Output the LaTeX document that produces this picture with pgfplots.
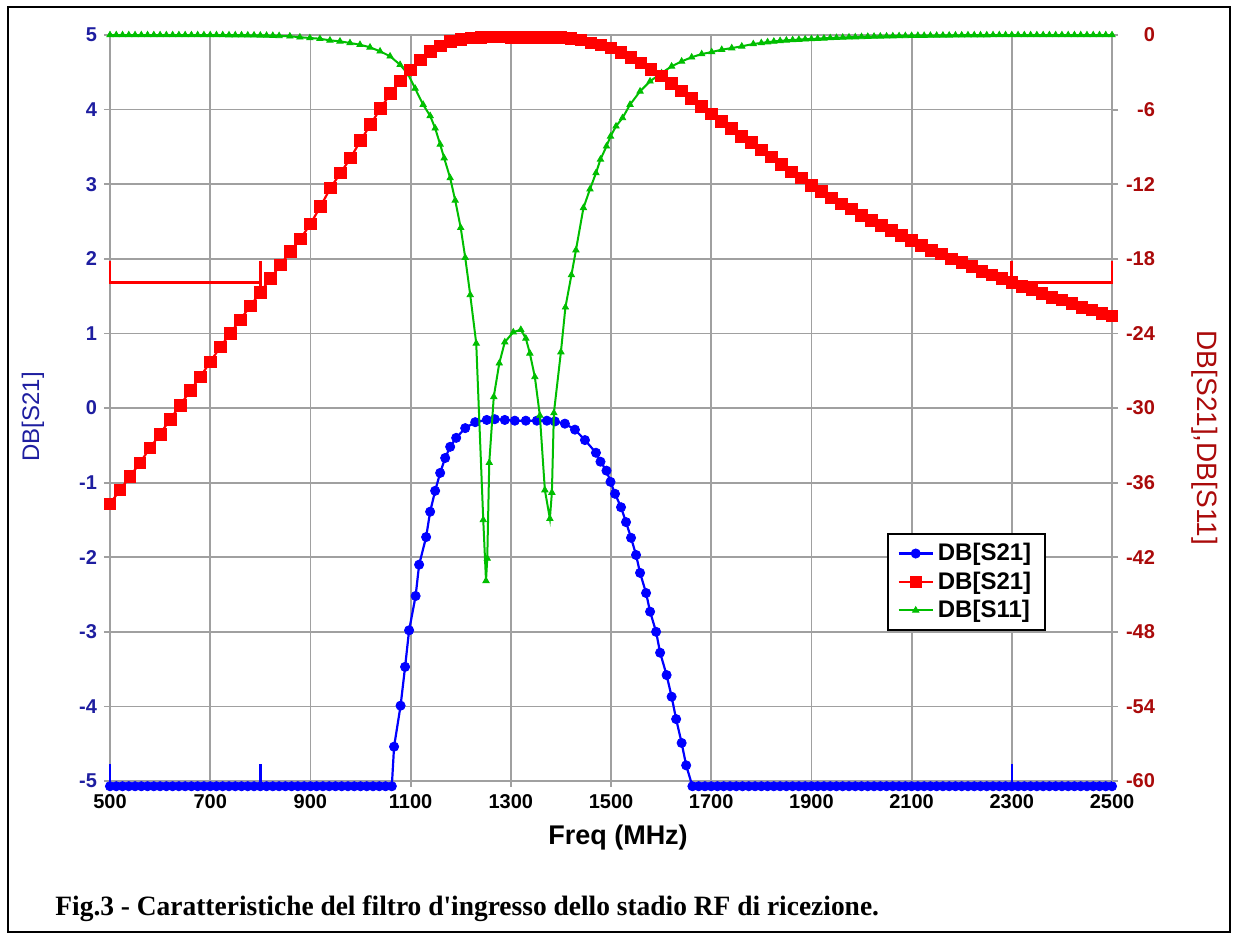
\documentclass[border=0pt]{standalone}
\usepackage{fontspec}
\setmainfont{Liberation Sans}
\newfontfamily\capfont{Liberation Serif}
\usepackage{graphicx}
\usepackage{pgfplots}
\pgfplotsset{compat=1.18}
\definecolor{S21blue}{RGB}{0,0,255}
\definecolor{S21red}{RGB}{255,0,0}
\definecolor{S11green}{RGB}{0,190,0}
\definecolor{LeftTick}{RGB}{30,30,160}
\definecolor{RightTick}{RGB}{170,10,10}
\definecolor{GridGray}{RGB}{160,160,160}
\pgfplotsset{
 filtro/.style={
  scale only axis, width=501pt, height=373pt,
  xmin=500, xmax=2500,
  clip=false,
  axis line style={draw=GridGray, line width=0.9pt},
  tick style={draw=GridGray, line width=0.9pt},
  tick align=outside, major tick length=3pt,
  tick label style={font=\fontsize{10}{12}\selectfont\bfseries},
 },
 bluetrace/.style={S21blue, line width=1.1pt, mark=*, mark size=2.3pt, mark options={fill=S21blue, line width=0.4pt}},
 redtrace/.style={S21red, line width=1.1pt, mark=square*, mark size=2.9pt, mark options={fill=S21red, line width=0.4pt}},
 greentrace/.style={S11green, line width=1pt, mark=triangle*, mark size=1.8pt, mark options={fill=S11green, line width=0.4pt}},
}
\begin{document}
\begin{tikzpicture}
\path[use as bounding box] (-55pt,-78.5pt) rectangle (562pt,390.5pt);
% left axis: S21 zoomed
\begin{axis}[filtro,
 ymin=-5, ymax=5,
 xtick={500,700,...,2500},
 xticklabels={500,700,900,1100,1300,1500,1700,1900,2100,2300,2500},
 ytick={-5,-4,...,5},
 yticklabels={-5,-4,-3,-2,-1,0,1,2,3,4,5},
 xtick pos=bottom, ytick pos=left,
 grid=major, major grid style={draw=GridGray, line width=0.9pt},
 yticklabel style={text=LeftTick},
 xlabel={Freq (MHz)},
 xlabel style={font=\fontsize{13.5}{15}\selectfont\bfseries, at={(axis description cs:0.507,-0.076)}, anchor=center},
 ylabel={DB[S21]},
 ylabel style={font=\fontsize{12}{14}\selectfont, text=LeftTick, at={(axis description cs:-0.077,0.488)}, anchor=center},
]
\addplot[bluetrace] coordinates {
(500,-5.07)(512.5,-5.07)(525,-5.07)(537.5,-5.07)(550,-5.07)(562.5,-5.07)(575,-5.07)(587.5,-5.07)(600,-5.07)(612.5,-5.07)(625,-5.07)(637.5,-5.07)(650,-5.07)(662.5,-5.07)(675,-5.07)(687.5,-5.07)(700,-5.07)(712.5,-5.07)(725,-5.07)(737.5,-5.07)(750,-5.07)(762.5,-5.07)(775,-5.07)(787.5,-5.07)(800,-5.07)(812.5,-5.07)(825,-5.07)(837.5,-5.07)(850,-5.07)(862.5,-5.07)(875,-5.07)(887.5,-5.07)(900,-5.07)(912.5,-5.07)(925,-5.07)(937.5,-5.07)(950,-5.07)(962.5,-5.07)(975,-5.07)(987.5,-5.07)(1000,-5.07)(1012.5,-5.07)(1025,-5.07)(1037.5,-5.07)(1050,-5.07)(1062.5,-5.07)
(1067,-4.54)(1080,-3.99)(1089,-3.47)(1097,-2.98)(1110,-2.52)(1117,-2.10)(1131,-1.73)(1139,-1.39)(1149,-1.11)(1159,-0.87)(1169,-0.67)(1179,-0.52)(1191,-0.40)(1209,-0.27)(1229,-0.19)(1252,-0.16)(1268,-0.15)(1288,-0.16)(1308,-0.17)(1330,-0.17)(1352,-0.17)(1372,-0.17)(1388,-0.18)(1408,-0.21)(1428,-0.29)(1448,-0.43)(1470,-0.60)(1479,-0.72)(1491,-0.84)(1499,-0.99)(1508,-1.15)(1520,-1.33)(1530,-1.53)(1540,-1.74)(1550,-1.97)(1558,-2.21)(1570,-2.48)(1578,-2.73)(1590,-3.00)(1598,-3.28)(1611,-3.58)(1621,-3.87)(1630,-4.17)(1641,-4.49)(1650,-4.79)
(1662.5,-5.07)(1675,-5.07)(1687.5,-5.07)(1700,-5.07)(1712.5,-5.07)(1725,-5.07)(1737.5,-5.07)(1750,-5.07)(1762.5,-5.07)(1775,-5.07)(1787.5,-5.07)(1800,-5.07)(1812.5,-5.07)(1825,-5.07)(1837.5,-5.07)(1850,-5.07)(1862.5,-5.07)(1875,-5.07)(1887.5,-5.07)(1900,-5.07)(1912.5,-5.07)(1925,-5.07)(1937.5,-5.07)(1950,-5.07)(1962.5,-5.07)(1975,-5.07)(1987.5,-5.07)(2000,-5.07)(2012.5,-5.07)(2025,-5.07)(2037.5,-5.07)(2050,-5.07)(2062.5,-5.07)(2075,-5.07)(2087.5,-5.07)(2100,-5.07)(2112.5,-5.07)(2125,-5.07)(2137.5,-5.07)(2150,-5.07)(2162.5,-5.07)(2175,-5.07)(2187.5,-5.07)(2200,-5.07)(2212.5,-5.07)(2225,-5.07)(2237.5,-5.07)(2250,-5.07)(2262.5,-5.07)(2275,-5.07)(2287.5,-5.07)(2300,-5.07)(2312.5,-5.07)(2325,-5.07)(2337.5,-5.07)(2350,-5.07)(2362.5,-5.07)(2375,-5.07)(2387.5,-5.07)(2400,-5.07)(2412.5,-5.07)(2425,-5.07)(2437.5,-5.07)(2450,-5.07)(2462.5,-5.07)(2475,-5.07)(2487.5,-5.07)(2500,-5.07)};
% blue mask marks
\addplot[S21blue, line width=1.3pt] coordinates {(500,-4.77)(500,-5.05)(800,-5.05)(800,-4.77)};
\addplot[S21blue, line width=1.3pt] coordinates {(2300,-4.77)(2300,-5.05)(2500,-5.05)(2500,-4.77)};
\end{axis}
% right axis: S21 and S11
\begin{axis}[filtro,
 ymin=-60, ymax=0,
 ytick={-60,-54,...,0},
 yticklabels={-60,-54,-48,-42,-36,-30,-24,-18,-12,-6,0},
 axis y line*=right, axis x line=none,
 yticklabel style={text=RightTick, anchor=east, xshift=22pt},
 ylabel={DB[S21],DB[S11]},
 ylabel style={font=\fontsize{14}{16}\selectfont, text=RightTick, at={(axis description cs:1.093,0.46)}, anchor=center, rotate=180},
 legend style={at={(axis description cs:0.775,0.332)}, anchor=north west, draw=black, line width=1pt, fill=white,
  font=\fontsize{12}{14}\selectfont\bfseries, inner xsep=5pt, inner ysep=2.5pt},
 legend cell align=left,
]
\addplot[greentrace, forget plot] coordinates {
(500,0)(512.5,0)(525,0)(537.5,0)(550,0)(562.5,0)(575,0)(587.5,0)(600,0)(612.5,0)(625,0)(637.5,0)(650,0)(662.5,0)(675,0)(687.5,0)(700,0)(712.5,0)(725,0)(737.5,-0.01)(750,-0.01)(762.5,-0.01)(775,-0.02)(787.5,-0.02)(800,-0.03)(812.5,-0.04)(825,-0.05)(837.5,-0.07)
(859,-0.10)(879,-0.18)(899,-0.24)(919,-0.30)(939,-0.43)(959,-0.51)(979,-0.64)(999,-0.78)(1019,-0.99)(1039,-1.31)(1059,-1.71)(1079,-2.39)(1095,-3.15)(1109,-4.3)(1125,-5.6)(1139,-6.5)(1149,-7.5)(1159,-8.8)(1167,-9.9)(1179,-11.5)(1189,-13.3)(1200,-15.5)(1209,-17.9)(1219,-20.9)(1231,-24.8)(1245,-39.0)(1250.5,-43.9)(1253,-42.1)(1257,-34.4)(1266,-29.1)(1277,-26.4)(1288,-24.7)(1305,-23.9)(1320,-23.7)(1330,-24.4)(1338,-25.6)(1348,-27.5)(1358,-30.6)(1368,-36.6)(1378,-38.9)(1382,-36.8)(1386,-30.4)(1400,-25.5)(1409,-21.9)(1421,-19.3)(1430,-17.3)(1445,-13.9)(1458,-12.4)(1470,-11.1)(1479,-10.0)(1491,-8.95)(1499,-8.15)(1510,-7.34)(1523,-6.67)(1538,-5.60)(1558,-4.53)(1578,-3.72)(1601,-3.06)(1621,-2.52)(1641,-2.12)(1661,-1.79)(1681,-1.53)(1701,-1.37)(1721,-1.18)(1741,-1.05)(1761,-0.91)(1784,-0.72)
(1800,-0.64)(1812.5,-0.57)(1825,-0.52)(1837.5,-0.47)(1850,-0.43)(1862.5,-0.40)(1875,-0.37)(1887.5,-0.34)(1900,-0.32)(1912.5,-0.29)(1925,-0.27)(1937.5,-0.24)(1950,-0.22)(1962.5,-0.20)(1975,-0.18)(1987.5,-0.17)(2000,-0.15)(2012.5,-0.13)(2025,-0.12)(2037.5,-0.11)(2050,-0.10)(2062.5,-0.09)(2075,-0.08)(2087.5,-0.07)(2100,-0.06)(2112.5,-0.05)(2125,-0.05)(2137.5,-0.04)(2150,-0.04)(2162.5,-0.03)(2175,-0.03)(2187.5,-0.02)(2200,-0.02)(2212.5,-0.01)(2225,-0.01)(2237.5,-0.01)(2250,-0.01)(2262.5,0)(2275,0)(2287.5,0)(2300,0)(2312.5,0)(2325,0)(2337.5,0)(2350,0)(2362.5,0)(2375,0)(2387.5,0)(2400,0)(2412.5,0)(2425,0)(2437.5,0)(2450,0)(2462.5,0)(2475,0)(2487.5,0)(2500,0)};
\addlegendimage{bluetrace}
\addlegendentry{DB[S21]}
\addplot[redtrace] coordinates {
(500,-37.7)(520,-36.6)(540,-35.5)(560,-34.4)(580,-33.2)(600,-32.1)(620,-30.9)(640,-29.8)(660,-28.6)(680,-27.5)(700,-26.3)(720,-25.1)(740,-24.0)(760,-22.9)(780,-21.8)(800,-20.7)(820,-19.6)(840,-18.5)(860,-17.4)(880,-16.4)(900,-15.2)(920,-13.8)(940,-12.3)(960,-11.1)(980,-9.9)(1000,-8.5)(1020,-7.2)(1040,-5.9)(1060,-4.7)(1080,-3.7)(1100,-2.8)(1120,-2.0)(1140,-1.3)(1160,-0.88)(1180,-0.52)(1200,-0.35)(1220,-0.24)(1240,-0.19)(1260,-0.16)(1280,-0.16)(1300,-0.17)(1320,-0.17)(1340,-0.17)(1360,-0.17)(1380,-0.18)(1400,-0.21)(1420,-0.26)(1440,-0.40)(1460,-0.62)(1480,-0.80)(1500,-1.05)(1520,-1.40)(1540,-1.78)(1560,-2.25)(1580,-2.77)(1600,-3.30)(1620,-3.90)(1640,-4.50)(1660,-5.10)(1680,-5.75)(1700,-6.35)(1720,-6.95)(1740,-7.50)(1760,-8.15)(1780,-8.65)(1800,-9.25)(1820,-9.8)(1840,-10.4)(1860,-11.0)(1880,-11.5)(1900,-12.1)(1920,-12.6)(1940,-13.1)(1960,-13.6)(1980,-14.0)(2000,-14.5)(2020,-14.9)(2040,-15.3)(2060,-15.7)(2080,-16.1)(2100,-16.5)(2120,-16.9)(2140,-17.3)(2160,-17.6)(2180,-18.0)(2200,-18.3)(2220,-18.6)(2240,-19.0)(2260,-19.3)(2280,-19.6)(2300,-19.9)(2320,-20.2)(2340,-20.5)(2360,-20.8)(2380,-21.1)(2400,-21.3)(2420,-21.6)(2440,-21.9)(2460,-22.1)(2480,-22.4)(2500,-22.6)};
\addlegendentry{DB[S21]}
\addlegendimage{greentrace}
\addlegendentry{DB[S11]}
% red mask marks
\addplot[S21red, line width=1.4pt, forget plot] coordinates {(500,-18.2)(500,-19.9)(800,-19.9)};
\addplot[S21red, line width=1.4pt, forget plot] coordinates {(800,-18.2)(800,-20.3)};
\addplot[S21red, line width=1.4pt, forget plot] coordinates {(2300,-18.2)(2300,-20.3)};
\addplot[S21red, line width=1.4pt, forget plot] coordinates {(2300,-19.9)(2500,-19.9)(2500,-18.2)};
\end{axis}
\node[anchor=base west, inner sep=0pt] at (-27.5pt,-67pt)
 {\scalebox{0.98}[1]{\capfont\bfseries\fontsize{14}{16}\selectfont Fig.3 - Caratteristiche del filtro d\textquotesingle ingresso dello stadio RF di ricezione.}};
\draw[line width=1.3pt] (-51pt,-75.5pt) rectangle (560pt,387pt);
\end{tikzpicture}
\end{document}
